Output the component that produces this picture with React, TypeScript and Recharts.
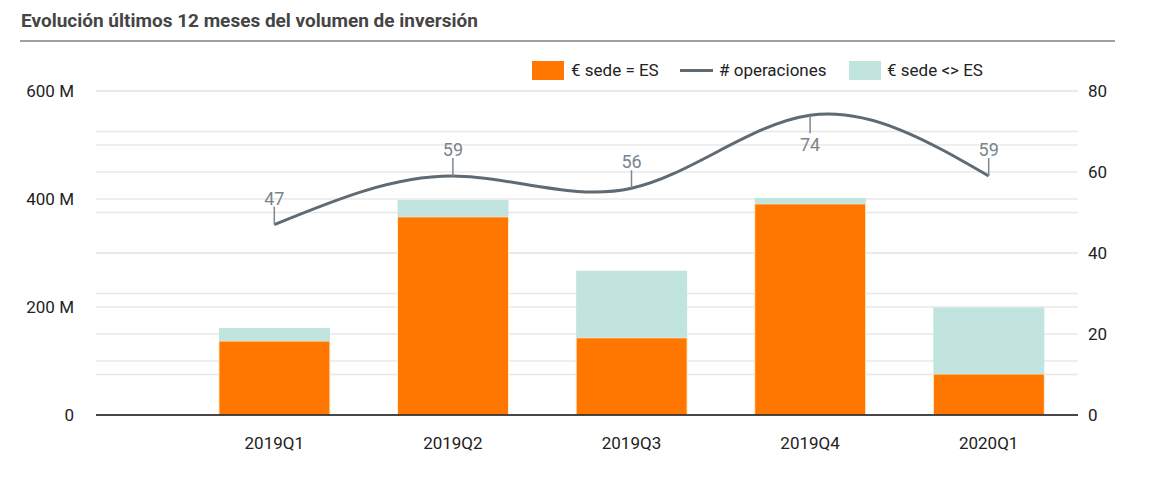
import React from "react";
import {
  Bar,
  CartesianGrid,
  ComposedChart,
  LabelList,
  Line,
  XAxis,
  YAxis,
} from "recharts";

// trimestres
const quarters = ["2019Q1", "2019Q2", "2019Q3", "2019Q4", "2020Q1"];
// volumen en millones de euros
const sedeEs = [137, 367, 143, 391, 76];
const sedeNoEs = [24, 31, 124, 11, 123];
// número de operaciones
const operaciones = [47, 59, 56, 74, 59];

const leftTicks = [0, 100, 200, 300, 400, 500, 600];
const rightTicks = [0, 10, 20, 30, 40, 50, 60, 70, 80];

const ORANGE = "#ff7700";
const TEAL = "#c1e4df";
const LINE = "#5f6a72";
const FONT = "Roboto, 'Noto Sans', sans-serif";

const rows = quarters.map((q, i) => ({
  quarter: q,
  sedeEs: sedeEs[i],
  sedeNoEs: sedeNoEs[i],
  operaciones: operaciones[i],
}));

const maxOps = Math.max(...operaciones);

function OpsLabel(props: any) {
  const { x, y, value } = props;
  const below = value === maxOps;
  const tickEnd = below ? y + 18 : y - 18;
  return (
    <g>
      <line x1={x} y1={y} x2={x} y2={tickEnd} stroke="#7d878e" strokeWidth={1.5} />
      <text
        x={x}
        y={below ? y + 36 : y - 20}
        textAnchor="middle"
        fill="#7a848b"
        fontSize={18}
        fontFamily={FONT}
      >
        {value}
      </text>
    </g>
  );
}

function LegendBox() {
  const label = { position: "absolute", top: 60, fontSize: 17, color: "#222", lineHeight: "20px" } as const;
  return (
    <>
      <div style={{ position: "absolute", left: 532, top: 61, width: 32, height: 19, background: ORANGE }} />
      <div style={{ ...label, left: 571 }}>€ sede = ES</div>
      <div style={{ position: "absolute", left: 680, top: 69, width: 33, height: 3, background: LINE }} />
      <div style={{ ...label, left: 719 }}># operaciones</div>
      <div style={{ position: "absolute", left: 849, top: 61, width: 32, height: 19, background: TEAL }} />
      <div style={{ ...label, left: 887 }}>€ sede &lt;&gt; ES</div>
    </>
  );
}

export default function App() {
  return (
    <div
      style={{
        position: "absolute",
        left: 0,
        top: 0,
        width: 1156,
        height: 489,
        background: "#fff",
        fontFamily: FONT,
      }}
    >
      <div
        style={{
          position: "absolute",
          left: 21,
          top: 9,
          fontSize: 19,
          fontWeight: 700,
          color: "#454545",
        }}
      >
        Evolución últimos 12 meses del volumen de inversión
      </div>
      <div
        style={{
          position: "absolute",
          left: 20,
          top: 40,
          width: 1095,
          height: 2,
          background: "#a0a0a0",
        }}
      />
      <LegendBox />
      <div style={{ position: "absolute", left: 0, top: 0 }}>
        <ComposedChart
          width={1156}
          height={460}
          data={rows}
          margin={{ top: 91, right: 0, left: 0, bottom: 0 }}
          barCategoryGap="19%"
        >
          <CartesianGrid yAxisId="left" vertical={false} stroke="#e8e8e8" strokeWidth={1.5} />
          <CartesianGrid yAxisId="right" vertical={false} stroke="#e8e8e8" strokeWidth={1.5} />
          <XAxis
            dataKey="quarter"
            padding={{ left: 89, right: 0 }}
            height={45}
            tickLine={false}
            tickSize={0}
            tickMargin={22}
            axisLine={{ stroke: "#111", strokeWidth: 1.5 }}
            tick={{ fontSize: 17, fill: "#222", fontFamily: FONT }}
          />
          <YAxis
            yAxisId="left"
            orientation="left"
            width={96}
            domain={[0, 600]}
            ticks={leftTicks}
            interval={0}
            axisLine={false}
            tickLine={false}
            tickSize={0}
            tickMargin={22}
            tickFormatter={(v: number) => (v % 200 !== 0 ? "" : v === 0 ? "0" : `${v} M`)}
            tick={{ fontSize: 17, fill: "#222", fontFamily: FONT }}
          />
          <YAxis
            yAxisId="right"
            orientation="right"
            width={78}
            domain={[0, 80]}
            ticks={rightTicks}
            interval={0}
            axisLine={false}
            tickLine={false}
            tickSize={0}
            tickMargin={10}
            tickFormatter={(v: number) => (v % 20 !== 0 ? "" : `${v}`)}
            tick={{ fontSize: 17, fill: "#222", fontFamily: FONT, textAnchor: "start" }}
          />
          <Bar
            yAxisId="left"
            dataKey="sedeEs"
            stackId="vol"
            fill={ORANGE}
            stroke="#fdf0cf"
            strokeWidth={1}
            isAnimationActive={false}
          />
          <Bar
            yAxisId="left"
            dataKey="sedeNoEs"
            stackId="vol"
            fill={TEAL}
            isAnimationActive={false}
          />
          <Line
            yAxisId="right"
            type="natural"
            dataKey="operaciones"
            stroke={LINE}
            strokeWidth={3}
            dot={false}
            isAnimationActive={false}
          >
            <LabelList dataKey="operaciones" content={<OpsLabel />} />
          </Line>
        </ComposedChart>
      </div>
    </div>
  );
}
